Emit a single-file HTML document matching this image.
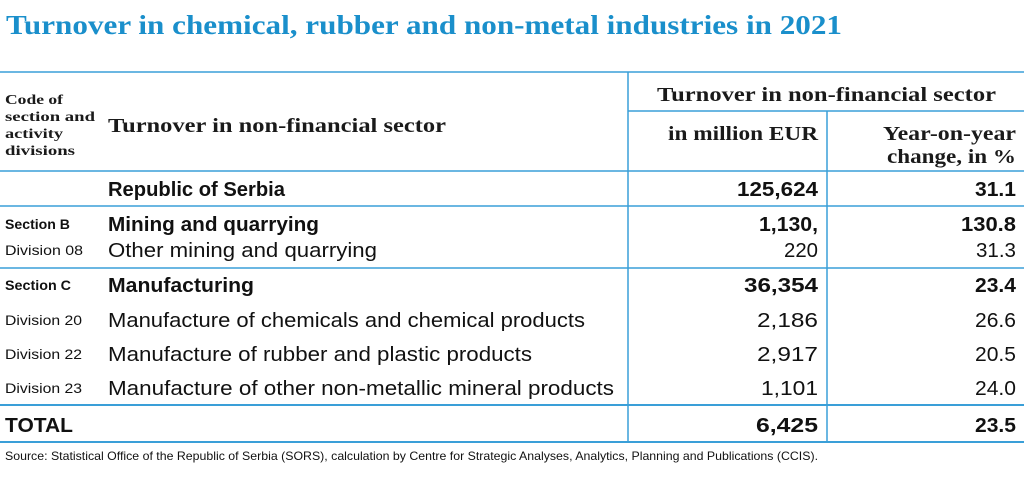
<!DOCTYPE html>
<html><head><meta charset="utf-8"><style>
html,body{margin:0;padding:0;background:#fff;}
svg{display:block;}
.t{font-family:"Liberation Serif",serif;font-weight:bold;fill:#1a8fcb;}
.h{font-family:"Liberation Serif",serif;fill:#1a1a1a;}
.s{font-family:"Liberation Sans",sans-serif;fill:#111;}
.b{font-weight:bold;}
</style></head><body>
<svg width="1024" height="482" viewBox="0 0 1024 482" xmlns="http://www.w3.org/2000/svg">
<text class="t" x="6" y="34" font-size="27" textLength="836" lengthAdjust="spacingAndGlyphs">Turnover in chemical, rubber and non-metal industries in 2021</text>
<g stroke="#3a9fd8" stroke-width="1.5">
<line x1="0" y1="72" x2="1024" y2="72"/>
<line x1="628" y1="111" x2="1024" y2="111"/>
<line x1="0" y1="171" x2="1024" y2="171"/>
<line x1="0" y1="206" x2="1024" y2="206"/>
<line x1="0" y1="268" x2="1024" y2="268"/>
<line x1="0" y1="405" x2="1024" y2="405" stroke-width="2"/>
<line x1="0" y1="442" x2="1024" y2="442" stroke-width="2"/>
<line x1="628" y1="72" x2="628" y2="442"/>
<line x1="827" y1="111" x2="827" y2="442"/>
</g>
<g class="h b" font-size="14">
<text x="5" y="104" textLength="58" lengthAdjust="spacingAndGlyphs">Code of</text>
<text x="5" y="121" textLength="90" lengthAdjust="spacingAndGlyphs">section and</text>
<text x="5" y="138" textLength="58" lengthAdjust="spacingAndGlyphs">activity</text>
<text x="5" y="155" textLength="70" lengthAdjust="spacingAndGlyphs">divisions</text>
</g>
<g class="h b" font-size="20">
<text x="108" y="132" textLength="338" lengthAdjust="spacingAndGlyphs">Turnover in non-financial sector</text>
<text x="657" y="101" textLength="339" lengthAdjust="spacingAndGlyphs">Turnover in non-financial sector</text>
<text x="818" y="140" text-anchor="end" textLength="150" lengthAdjust="spacingAndGlyphs">in million EUR</text>
<text x="1016" y="140" text-anchor="end" textLength="133" lengthAdjust="spacingAndGlyphs">Year-on-year</text>
<text x="1016" y="163" text-anchor="end" textLength="129" lengthAdjust="spacingAndGlyphs">change, in %</text>
</g>
<g class="s" font-size="20">
<text class="b" x="108" y="196" textLength="177" lengthAdjust="spacingAndGlyphs">Republic of Serbia</text>
<text class="b" x="818" y="196" text-anchor="end" textLength="81" lengthAdjust="spacingAndGlyphs">125,624</text>
<text class="b" x="1016" y="196" text-anchor="end" textLength="41" lengthAdjust="spacingAndGlyphs">31.1</text>

<text class="b" x="5" y="229" font-size="14" textLength="65" lengthAdjust="spacingAndGlyphs">Section B</text>
<text class="b" x="108" y="231" textLength="211" lengthAdjust="spacingAndGlyphs">Mining and quarrying</text>
<text class="b" x="818" y="231" text-anchor="end" textLength="59" lengthAdjust="spacingAndGlyphs">1,130,</text>
<text class="b" x="1016" y="231" text-anchor="end" textLength="55" lengthAdjust="spacingAndGlyphs">130.8</text>

<text x="5" y="255" font-size="14" textLength="78" lengthAdjust="spacingAndGlyphs">Division 08</text>
<text x="108" y="257" textLength="269" lengthAdjust="spacingAndGlyphs">Other mining and quarrying</text>
<text x="818" y="257" text-anchor="end" textLength="34" lengthAdjust="spacingAndGlyphs">220</text>
<text x="1016" y="257" text-anchor="end" textLength="40" lengthAdjust="spacingAndGlyphs">31.3</text>

<text class="b" x="5" y="290" font-size="14" textLength="66" lengthAdjust="spacingAndGlyphs">Section C</text>
<text class="b" x="108" y="292" textLength="146" lengthAdjust="spacingAndGlyphs">Manufacturing</text>
<text class="b" x="818" y="292" text-anchor="end" textLength="74" lengthAdjust="spacingAndGlyphs">36,354</text>
<text class="b" x="1016" y="292" text-anchor="end" textLength="41" lengthAdjust="spacingAndGlyphs">23.4</text>

<text x="5" y="325" font-size="14" textLength="77" lengthAdjust="spacingAndGlyphs">Division 20</text>
<text x="108" y="327" textLength="477" lengthAdjust="spacingAndGlyphs">Manufacture of chemicals and chemical products</text>
<text x="818" y="327" text-anchor="end" textLength="61" lengthAdjust="spacingAndGlyphs">2,186</text>
<text x="1016" y="327" text-anchor="end" textLength="41" lengthAdjust="spacingAndGlyphs">26.6</text>

<text x="5" y="359" font-size="14" textLength="77" lengthAdjust="spacingAndGlyphs">Division 22</text>
<text x="108" y="361" textLength="424" lengthAdjust="spacingAndGlyphs">Manufacture of rubber and plastic products</text>
<text x="818" y="361" text-anchor="end" textLength="61" lengthAdjust="spacingAndGlyphs">2,917</text>
<text x="1016" y="361" text-anchor="end" textLength="41" lengthAdjust="spacingAndGlyphs">20.5</text>

<text x="5" y="393" font-size="14" textLength="77" lengthAdjust="spacingAndGlyphs">Division 23</text>
<text x="108" y="395" textLength="506" lengthAdjust="spacingAndGlyphs">Manufacture of other non-metallic mineral products</text>
<text x="818" y="395" text-anchor="end" textLength="57" lengthAdjust="spacingAndGlyphs">1,101</text>
<text x="1016" y="395" text-anchor="end" textLength="41" lengthAdjust="spacingAndGlyphs">24.0</text>

<text class="b" x="5" y="432" textLength="68" lengthAdjust="spacingAndGlyphs">TOTAL</text>
<text class="b" x="818" y="432" text-anchor="end" textLength="62" lengthAdjust="spacingAndGlyphs">6,425</text>
<text class="b" x="1016" y="432" text-anchor="end" textLength="41" lengthAdjust="spacingAndGlyphs">23.5</text>

<text x="5" y="460" font-size="12" textLength="813" lengthAdjust="spacingAndGlyphs">Source: Statistical Office of the Republic of Serbia (SORS), calculation by Centre for Strategic Analyses, Analytics, Planning and Publications (CCIS).</text>
</g>
</svg>
</body></html>
